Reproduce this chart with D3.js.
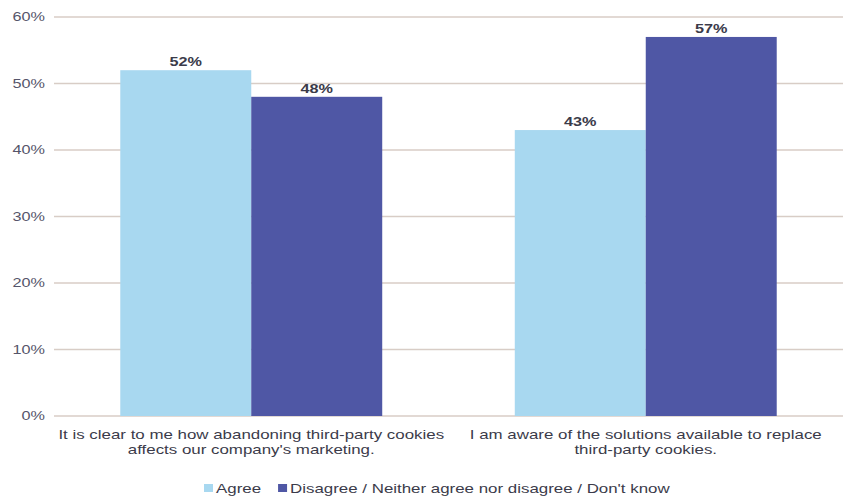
<!DOCTYPE html>
<html><head><meta charset="utf-8">
<script src="https://cdn.jsdelivr.net/npm/d3@7"></script>
<style>body{margin:0;background:#fff;} svg{display:block;}</style>
</head><body>
<script>
const categories = [
  ["It is clear to me how abandoning third-party cookies", "affects our company's marketing."],
  ["I am aware of the solutions available to replace", "third-party cookies."]
];
const seriesNames = ["Agree", "Disagree / Neither agree nor disagree / Don't know"];
const agree = [52, 43];
const disagree = [48, 57];
const yTicks = [0, 10, 20, 30, 40, 50, 60];
const colors = ["#a8d8f0", "#4f57a5"];

(function () {
const W = 849, H = 497;
const svg = d3.select("body").append("svg").attr("width", W).attr("height", H);
const mLeft = 54, mRight = 843, mTop = 17, mBottom = 416;
const font = "'Liberation Sans', Arial, sans-serif";
const textCol = "#3b3b4a";
const SX = 1.3; // horizontal stretch of the source image text

function stext(parent, x, y, str, opts) {
  const g = parent.append("g").attr("transform", `translate(${x},${y}) scale(${SX},1)`);
  const t = g.append("text")
    .attr("text-anchor", opts.anchor || "middle")
    .attr("font-family", font)
    .attr("font-size", opts.size || 13)
    .attr("font-weight", opts.weight || "normal")
    .attr("fill", opts.fill || textCol)
    .text(str);
  if (opts.dy) t.attr("dy", opts.dy);
  return t;
}

const y = d3.scaleLinear().domain([0, 60]).range([mBottom, mTop]);
const x0 = d3.scaleBand().domain([0, 1]).range([mLeft, mRight]).paddingInner(0.336).paddingOuter(0.168);
const x1 = d3.scaleBand().domain([0, 1]).range([0, x0.bandwidth()]);

svg.append("g").selectAll("line").data(yTicks).join("line")
  .attr("x1", mLeft).attr("x2", mRight)
  .attr("y1", d => y(d)).attr("y2", d => y(d))
  .attr("stroke", "#d8cdc6").attr("stroke-width", 1.3);

const ga = svg.append("g");
yTicks.forEach(d => stext(ga, 45, y(d), d + "%", {anchor: "end", size: 12.5, dy: "0.35em", fill: "#55556a"}));

const series = [agree, disagree];
series.forEach((vals, si) => {
  const g = svg.append("g");
  g.selectAll("rect").data(vals).join("rect")
    .attr("x", (d, i) => x0(i) + x1(si))
    .attr("width", x1.bandwidth())
    .attr("y", d => y(d))
    .attr("height", d => y(0) - y(d))
    .attr("fill", colors[si]);
  vals.forEach((d, i) => stext(g, x0(i) + x1(si) + x1.bandwidth() / 2, y(d) - 4, d + "%", {size: 12.5, weight: "bold"}));
});

categories.forEach((lines, i) => {
  const cx = x0(i) + x0.bandwidth() / 2;
  lines.forEach((l, j) => stext(svg, cx, 439 + j * 15, l, {size: 13}));
});

const lg = svg.append("g").attr("transform", "translate(204,0)");
let lx = 0;
seriesNames.forEach((n, i) => {
  lg.append("rect").attr("x", lx).attr("y", 484).attr("width", 9).attr("height", 8).attr("fill", colors[i]);
  const t = stext(lg, lx + 12, 493, n, {anchor: "start", size: 13});
  lx += 12 + t.node().getComputedTextLength() * SX + 17;
});
})();
</script>
</body></html>
